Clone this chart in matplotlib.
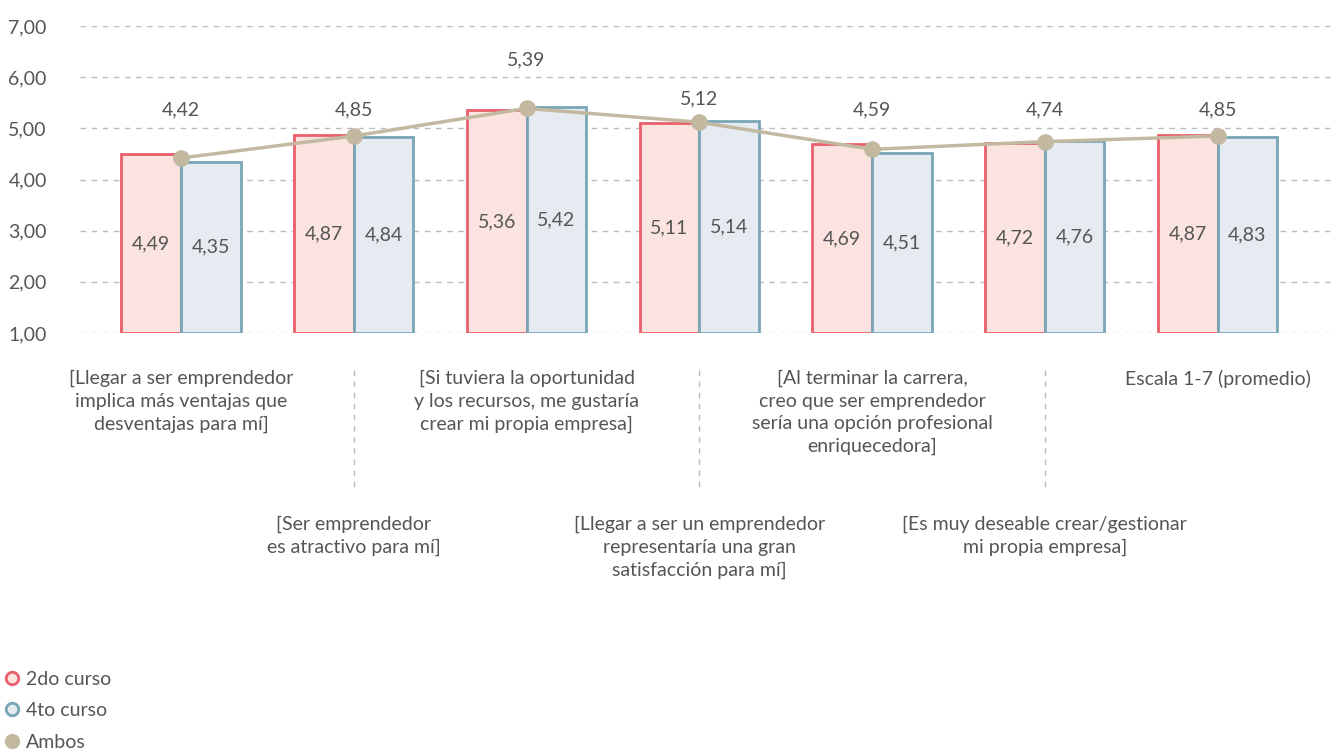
import matplotlib
matplotlib.use("Agg")
import matplotlib.pyplot as plt
import numpy as np
from matplotlib.lines import Line2D
from matplotlib.ticker import FuncFormatter

# Datos (escala 1-7, promedio)
categorias = [
    "[Llegar a ser emprendedor\nimplica más ventajas que\ndesventajas para mí]",
    "[Ser emprendedor\nes atractivo para mí]",
    "[Si tuviera la oportunidad\ny los recursos, me gustaría\ncrear mi propia empresa]",
    "[Llegar a ser un emprendedor\nrepresentaría una gran\nsatisfacción para mí]",
    "[Al terminar la carrera,\ncreo que ser emprendedor\nsería una opción profesional\nenriquecedora]",
    "[Es muy deseable crear/gestionar\nmi propia empresa]",
    "Escala 1-7 (promedio)",
]
segundo = [4.49, 4.87, 5.36, 5.11, 4.69, 4.72, 4.87]
cuarto = [4.35, 4.84, 5.42, 5.14, 4.51, 4.76, 4.83]
ambos = [4.42, 4.85, 5.39, 5.12, 4.59, 4.74, 4.85]

# estilo
rojo, rosa = "#ea5f6b", "#fbe3e0"
azul, celeste = "#79a6b7", "#e5ebf0"
beige = "#c2b9a0"
gris = "#555555"
fs = 14
ambos_label_y = [5.36, 5.36, 6.34, 5.57, 5.36, 5.36, 5.36]

plt.rcParams["font.family"] = ["Lato", "DejaVu Sans"]

def coma(v, pos=None):
    return f"{v:.2f}".replace(".", ",")

fig = plt.figure(figsize=(13.35, 7.49), dpi=100)
ax = fig.add_axes([80 / 1335, 1 - 333 / 749, 1 - 80 / 1335, 307 / 749])

x = np.arange(len(categorias))
w = 0.345
base = 1.0
ax.bar(x - w / 2, np.array(segundo) - base, w, bottom=base, color=rosa,
       edgecolor=rojo, linewidth=2, zorder=3)
ax.bar(x + w / 2, np.array(cuarto) - base, w, bottom=base, color=celeste,
       edgecolor=azul, linewidth=2, zorder=3)
ax.plot(x, ambos, color=beige, lw=2.5, marker="o", ms=11, zorder=4)

for i in range(len(x)):
    ax.text(x[i] - w / 2, (base + segundo[i]) / 2, coma(segundo[i]), ha="center",
            va="center", fontsize=fs, color=gris, zorder=5)
    ax.text(x[i] + w / 2, (base + cuarto[i]) / 2, coma(cuarto[i]), ha="center",
            va="center", fontsize=fs, color=gris, zorder=5)
    ax.text(x[i], ambos_label_y[i], coma(ambos[i]), ha="center", va="center",
            fontsize=fs, color=gris, zorder=5)

ax.set_ylim(1, 7)
ax.set_xlim(-0.585, 6.68)
ax.set_yticks(range(1, 8))
ax.yaxis.set_major_formatter(FuncFormatter(coma))
ax.set_xticks([])
ax.tick_params(axis="y", length=0, pad=24, labelsize=fs, labelcolor=gris)
ax.grid(axis="y", color="#bbbbbb", linestyle=(0, (4, 4)), lw=1, zorder=0)
for s in ax.spines.values():
    s.set_visible(False)

# etiquetas de categoría en dos filas
tr = ax.get_xaxis_transform()
for i, cat in enumerate(categorias):
    y = -0.12 if i % 2 == 0 else -0.595
    ax.text(x[i], y, cat, transform=tr, ha="center", va="top", fontsize=fs,
            color=gris, linespacing=1.4)
    if i % 2 == 1:
        ax.plot([x[i], x[i]], [-0.12, -0.505], transform=tr, color="#bbbbbb",
                lw=1, linestyle=(0, (4, 4)), clip_on=False)

handles = [
    Line2D([], [], ls="none", marker="o", ms=9, mfc=rosa, mec=rojo, mew=2),
    Line2D([], [], ls="none", marker="o", ms=9, mfc=celeste, mec=azul, mew=2),
    Line2D([], [], ls="none", marker="o", ms=10, mfc=beige, mec=beige),
]
fig.legend(handles, ["2do curso", "4to curso", "Ambos"], loc="upper left",
           bbox_to_anchor=(-0.01, 0.128), frameon=False, fontsize=fs,
           labelcolor=gris, handlelength=0.8, handletextpad=0.3, labelspacing=0.75)

fig.savefig("out.png", dpi=100)
